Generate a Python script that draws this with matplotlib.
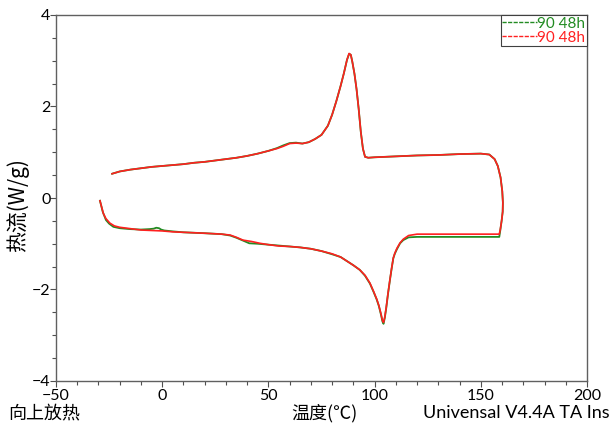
import matplotlib
matplotlib.use("Agg")
import matplotlib.pyplot as plt
from matplotlib.ticker import MultipleLocator
from matplotlib.lines import Line2D

# Heating segment (shared temperatures for both samples)
heat_T = [-23.6, -20, -15, -10, -5, 0, 5, 10, 15, 20, 25, 30, 35, 40, 45, 50, 54, 57,
          60, 63, 66, 69, 72, 75, 78, 80, 82, 84, 85.5, 87, 88, 88.8, 89.5, 90.5, 91.5,
          92.5, 93.5, 94.5, 95.5, 97, 100, 110, 120, 130, 140, 150, 154, 156.5, 158,
          159.3, 160.1, 160.4, 160.3, 159.8, 159.2, 158.7]
heat_green = [0.53, 0.58, 0.62, 0.65, 0.68, 0.70, 0.72, 0.74, 0.77, 0.79, 0.82, 0.85, 0.88,
              0.92, 0.97, 1.03, 1.09, 1.15, 1.20, 1.21, 1.19, 1.22, 1.29, 1.38, 1.58, 1.82,
              2.12, 2.45, 2.72, 3.02, 3.15, 3.13, 2.98, 2.72, 2.38, 1.95, 1.45, 1.08, 0.90,
              0.88, 0.89, 0.91, 0.93, 0.94, 0.96, 0.97, 0.95, 0.85, 0.70, 0.45, 0.15,
              -0.10, -0.30, -0.50, -0.70, -0.85]
heat_red = [0.53, 0.58, 0.62, 0.65, 0.68, 0.70, 0.72, 0.74, 0.77, 0.79, 0.82, 0.85, 0.88,
            0.92, 0.97, 1.03, 1.08, 1.13, 1.19, 1.20, 1.19, 1.22, 1.29, 1.38, 1.58, 1.82,
            2.12, 2.45, 2.72, 3.02, 3.16, 3.13, 2.98, 2.72, 2.38, 1.95, 1.45, 1.08, 0.90,
            0.88, 0.89, 0.91, 0.93, 0.94, 0.96, 0.97, 0.95, 0.85, 0.70, 0.45, 0.15,
            -0.10, -0.30, -0.50, -0.68, -0.79]

# Cooling segment
cool_T_green = [158.7, 120, 116, 113.5, 112, 110.5, 109.5, 108.8, 108, 107.2, 106.3, 105.5,
                104.8, 104.2, 103.7, 103, 102, 101, 99.5, 97.8, 95.5, 93, 90, 87, 84, 80,
                75, 70, 65, 60, 55, 50, 45, 41, 38, 35, 32, 28, 20, 15, 10, 5, 1, -0.5,
                -1.5, -2.8, -4, -6, -10, -15, -20, -23, -25, -26.5, -28, -29.3]
cool_green = [-0.85, -0.85, -0.86, -0.92, -0.99, -1.12, -1.22, -1.32, -1.55, -1.80, -2.10,
              -2.40, -2.62, -2.75, -2.70, -2.55, -2.36, -2.22, -2.05, -1.87, -1.70, -1.57,
              -1.47, -1.38, -1.29, -1.23, -1.16, -1.11, -1.08, -1.06, -1.04, -1.02, -1.00,
              -0.99, -0.93, -0.87, -0.82, -0.79, -0.77, -0.76, -0.75, -0.73, -0.71, -0.69,
              -0.66, -0.65, -0.67, -0.68, -0.69, -0.68, -0.66, -0.63, -0.56, -0.48, -0.30,
              -0.06]
cool_T_red = [158.7, 120, 116, 113.5, 112, 110.5, 109.5, 108.8, 108, 107.2, 106.3, 105.5,
              104.8, 104.2, 103.7, 103, 102, 101, 99.5, 97.8, 95.5, 93, 90, 87, 84, 80,
              75, 70, 65, 60, 55, 50, 46, 42, 38, 35, 32, 28, 20, 15, 10, 5, 0, -5,
              -10, -15, -20, -22.5, -24.6, -26.5, -27.7, -29.3]
cool_red = [-0.79, -0.79, -0.82, -0.90, -0.98, -1.10, -1.21, -1.31, -1.54, -1.79, -2.09,
            -2.38, -2.60, -2.72, -2.68, -2.53, -2.35, -2.21, -2.04, -1.86, -1.69, -1.57,
            -1.47, -1.38, -1.29, -1.22, -1.16, -1.11, -1.08, -1.06, -1.05, -1.02, -0.99,
            -0.95, -0.92, -0.86, -0.81, -0.79, -0.77, -0.76, -0.75, -0.74, -0.72, -0.71,
            -0.70, -0.67, -0.64, -0.61, -0.55, -0.45, -0.34, -0.06]

label_green = "90 48h"
label_red = "90 48h"

fig = plt.figure(figsize=(6.16, 4.23), dpi=100)
ax = fig.add_axes([56/616, 1-381/423, (587-56)/616, (381-15)/423])

ax.plot(heat_T + cool_T_green, heat_green + cool_green, color="#228B22", lw=1.3,
        zorder=2)
ax.plot(heat_T + cool_T_red, heat_red + cool_red, color="#FF2020", lw=1.2, zorder=3)

ax.set_xlim(-50, 200)
ax.set_ylim(-4, 4)
ax.xaxis.set_major_locator(MultipleLocator(50))
ax.xaxis.set_minor_locator(MultipleLocator(10))
ax.yaxis.set_major_locator(MultipleLocator(2))
ax.yaxis.set_minor_locator(MultipleLocator(0.5))
ax.tick_params(which="major", direction="out", length=4, width=0.8, color="#505050",
               labelsize=11.5, pad=0)
ax.tick_params(axis="x", which="major", pad=1.5)
ax.tick_params(which="minor", direction="out", length=3, width=0.8, color="#505050")
for lab in ax.get_xticklabels() + ax.get_yticklabels():
    lab.set_family("Lato")
for s in ax.spines.values():
    s.set_color("#606060")
    s.set_linewidth(1.0)

h1 = Line2D([], [], color="#228B22", lw=1.0, linestyle=(0, (3, 1)))
h2 = Line2D([], [], color="#FF2020", lw=1.0, linestyle=(0, (3, 1)))
leg = ax.legend([h1, h2], [label_green, label_red], loc="upper right",
                bbox_to_anchor=(1.0, 1.0), fancybox=False, frameon=True,
                edgecolor="#404040", framealpha=1, borderpad=0.1, labelspacing=0.0,
                handlelength=2.3, handletextpad=0.0, borderaxespad=0.0,
                prop={"family": "Lato", "size": 11})
leg.get_frame().set_linewidth(0.8)
for t, c in zip(leg.get_texts(), ["#228B22", "#FF2020"]):
    t.set_color(c)

cjk = ["Noto Sans CJK SC", "DejaVu Sans"]
fig.text(18/616, 1-205/423, "热流(W/g)", rotation=90, ha="center", va="center",
         family=cjk, fontsize=15)
fig.text(8/616, 1-413/423, "向上放热", ha="left", va="center", family=cjk, fontsize=13)
fig.text(324/616, 1-413/423, "温度(℃)", ha="center", va="center", family=cjk, fontsize=13)
fig.text(423/616, 1-413/423, "Univensal V4.4A TA Ins", ha="left", va="center",
         family="Lato", fontsize=13)

fig.savefig("out.png", dpi=100)
